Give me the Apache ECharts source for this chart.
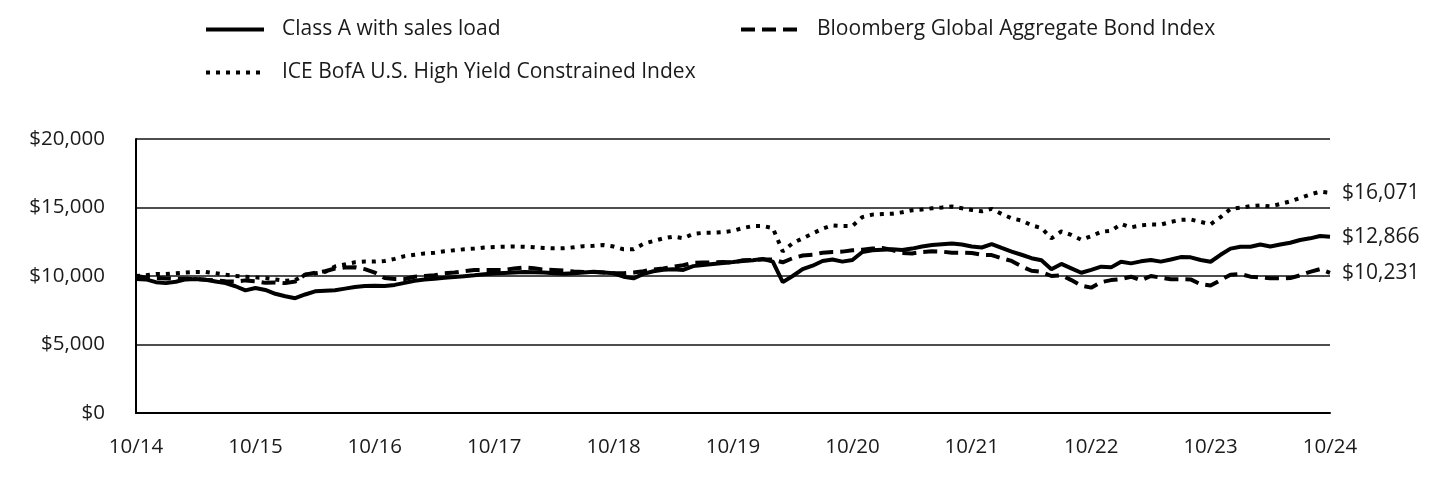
<!DOCTYPE html>
<html>
<head>
<meta charset="utf-8">
<script src="https://cdn.jsdelivr.net/npm/echarts@6/dist/echarts.min.js"></script>
<style>
html,body{margin:0;padding:0;background:#fff;}
#chart{width:1440px;height:480px;}
</style>
</head>
<body>
<div id="chart"></div>
<script>
// Months from 10/14 to 10/24
const months = [];
for (let y = 14, m = 10; !(y === 24 && m === 11); ) {
  months.push(m + '/' + y);
  m++; if (m > 12) { m = 1; y++; }
}

const classA = [
  9780, 9750, 9550, 9480, 9580, 9750, 9780, 9720, 9600, 9480,
  9250, 8950, 9120, 8980, 8700, 8520, 8380, 8650, 8880, 8920,
  8960, 9080, 9200, 9270, 9280, 9270, 9350, 9500, 9650, 9750,
  9800, 9880, 9920, 9990, 10050, 10120, 10180, 10220, 10260, 10300,
  10280, 10250, 10200, 10160, 10200, 10260, 10310, 10260, 10200, 9950,
  9830, 10150, 10350, 10450, 10500, 10440, 10720, 10800, 10880, 10950,
  11020, 11100, 11150, 11250, 11050, 9550, 10000, 10500, 10750, 11100,
  11200, 11050, 11170, 11750, 11880, 11920, 11950, 11900, 12000, 12150,
  12260, 12320, 12380, 12300, 12150, 12080, 12330, 12050, 11780, 11550,
  11300, 11150, 10500, 10880, 10560, 10240, 10450, 10680, 10630, 11040,
  10920, 11070, 11170, 11050, 11200, 11380, 11360, 11170, 11040, 11550,
  12000, 12140, 12140, 12300, 12150, 12300, 12430, 12630, 12750, 12920,
  12866
];

const bloomberg = [
  10000, 9900, 9850, 9820, 9800, 9800, 9780, 9720, 9680, 9620,
  9600, 9680, 9620, 9500, 9530, 9480, 9600, 10100, 10250, 10350,
  10550, 10620, 10640, 10500, 10250, 9850, 9780, 9780, 9950, 10000,
  10050, 10200, 10250, 10350, 10430, 10440, 10440, 10450, 10550, 10630,
  10560, 10470, 10440, 10400, 10330, 10300, 10300, 10250, 10200, 10200,
  10250, 10350, 10480, 10550, 10680, 10780, 10960, 10980, 11000, 11020,
  10980, 11150, 11180, 11200, 11200, 11000, 11300, 11500, 11550, 11700,
  11750, 11780, 11880, 11920, 12000, 12050, 11900, 11680, 11650, 11750,
  11800, 11780, 11700, 11700, 11680, 11550, 11530, 11300, 11100, 10700,
  10380, 10300, 10000, 10050, 9700, 9300, 9150, 9550, 9700, 9780,
  9950, 9680, 10000, 9880, 9760, 9760, 9750, 9400, 9300, 9700,
  10100, 10150, 9950, 9900, 9830, 9830, 9850, 10050, 10300, 10500,
  10231
];

const iceHY = [
  10000, 10050, 10150, 10150, 10200, 10250, 10300, 10300, 10200, 10100,
  10000, 9950, 9900, 9850, 9750, 9650, 9700, 10100, 10200, 10300,
  10700, 10850, 11000, 11050, 11050, 11100, 11250, 11450, 11550, 11650,
  11700, 11800, 11880, 11950, 12000, 12080, 12120, 12140, 12150, 12140,
  12100, 12050, 12020, 12030, 12090, 12180, 12200, 12260, 12150, 11950,
  11950, 12350, 12550, 12750, 12870, 12760, 13070, 13150, 13160, 13200,
  13300, 13500, 13650, 13650, 13500, 11800, 12400, 12750, 13100, 13450,
  13700, 13650, 13650, 14300, 14480, 14520, 14550, 14650, 14800, 14850,
  14940, 15000, 15070, 14950, 14820, 14720, 14900, 14530, 14210, 14050,
  13700, 13500, 12750, 13250, 13000, 12650, 12900, 13230, 13300, 13800,
  13550, 13700, 13760, 13750, 13950, 14100, 14130, 13950, 13780, 14300,
  14900, 14980, 15100, 15150, 15080, 15250, 15450, 15700, 15950, 16150,
  16071
];

const seriesNames = [
  'Class A with sales load',
  'Bloomberg Global Aggregate Bond Index',
  'ICE BofA U.S. High Yield Constrained Index'
];

const yTicks = { min: 0, max: 20000, interval: 5000 };

const FONT = '"Open Sans", "Noto Sans", sans-serif';
const TXT = '#1a1a1a';

function fmtMoney(v) {
  return '$' + Math.round(v).toLocaleString('en-US');
}

const chart = echarts.init(document.getElementById('chart'), null, { renderer: 'canvas' });

function legendAt(name, left, top) {
  return {
    data: [name],
    left: left, top: top,
    orient: 'horizontal',
    itemWidth: 58, itemHeight: 14, itemGap: 0,
    selectedMode: false,
    itemStyle: { color: 'transparent', borderColor: 'transparent', borderWidth: 0, opacity: 0 },
    lineStyle: { width: 4 },
    textStyle: { fontFamily: FONT, fontSize: 21, color: TXT, padding: [0, 0, 0, 13] }
  };
}

const option = {
  backgroundColor: '#fff',
  animation: false,
  legend: [
    legendAt(seriesNames[0], 199, 14),
    legendAt(seriesNames[1], 734, 14),
    legendAt(seriesNames[2], 199, 57)
  ],
  grid: { left: 136, right: 110, top: 139, bottom: 67, containLabel: false },
  xAxis: {
    type: 'category',
    data: months,
    boundaryGap: false,
    axisLine: { show: true, lineStyle: { color: '#000', width: 2 } },
    axisTick: { show: false },
    splitLine: { show: false },
    axisLabel: {
      interval: function (idx) { return idx % 12 === 0; },
      fontFamily: FONT, fontSize: 20.5, color: TXT, margin: 24,
      formatter: function (v) { return v.length === 4 ? '0' + v : v; }
    }
  },
  yAxis: {
    type: 'value',
    min: yTicks.min, max: yTicks.max, interval: yTicks.interval,
    axisLine: { show: true, lineStyle: { color: '#000', width: 2 } },
    axisTick: { show: false },
    splitLine: { show: true, lineStyle: { color: '#4d4d4d', width: 2 } },
    axisLabel: {
      fontFamily: FONT, fontSize: 20.5, color: TXT, margin: 31,
      formatter: function (v) { return fmtMoney(v); }
    }
  },
  series: [
    {
      name: seriesNames[0], type: 'line', data: classA,
      symbol: 'none', smooth: false, z: 3,
      lineStyle: { color: '#000', width: 4, type: 'solid' },
      itemStyle: { color: '#000' },
      endLabel: {
        show: true, distance: 12, fontFamily: FONT, fontSize: 21, color: TXT,
        formatter: function (p) { return fmtMoney(p.value); }
      }
    },
    {
      name: seriesNames[1], type: 'line', data: bloomberg,
      symbol: 'none', smooth: false, z: 2,
      lineStyle: { color: '#000', width: 4, type: [14, 7], cap: 'butt' },
      itemStyle: { color: '#000' },
      endLabel: {
        show: true, distance: 12, fontFamily: FONT, fontSize: 21, color: TXT,
        formatter: function (p) { return fmtMoney(p.value); }
      }
    },
    {
      name: seriesNames[2], type: 'line', data: iceHY,
      symbol: 'none', smooth: false, z: 2,
      lineStyle: { color: '#000', width: 4, type: [4, 6], cap: 'butt' },
      itemStyle: { color: '#000' },
      endLabel: {
        show: true, distance: 12, fontFamily: FONT, fontSize: 21, color: TXT,
        formatter: function (p) { return fmtMoney(p.value); }
      }
    }
  ]
};

chart.setOption(option);
</script>
</body>
</html>
